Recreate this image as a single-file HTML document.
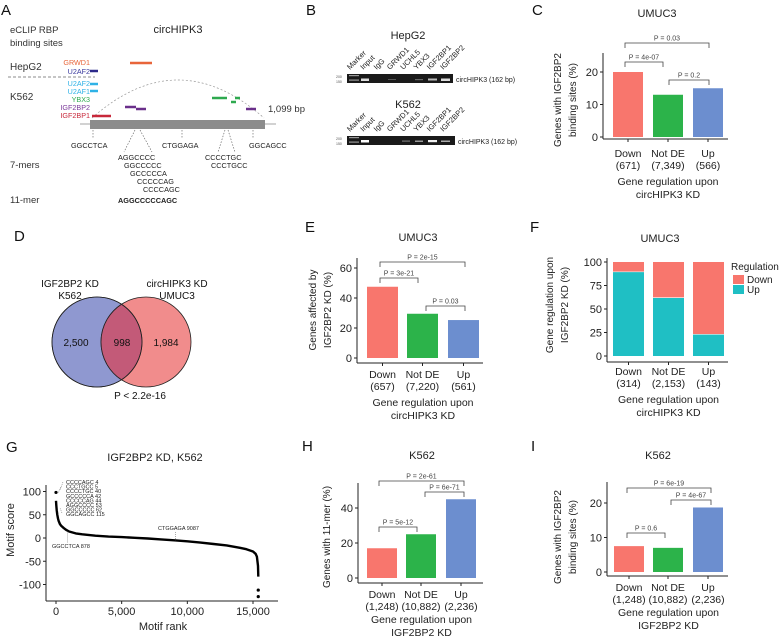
<!DOCTYPE html>
<html><head><meta charset="utf-8"><style>
html,body{margin:0;padding:0;background:#fff}
svg{display:block;font-family:"Liberation Sans",Arial,sans-serif}
</style></head><body>
<svg id="fig" width="784" height="638" viewBox="0 0 784 638" xmlns="http://www.w3.org/2000/svg">
<g font-size="15" fill="#111">
<text x="1" y="15">A</text><text x="306" y="15">B</text><text x="532" y="15">C</text>
<text x="14" y="241">D</text><text x="305" y="232">E</text><text x="530" y="232">F</text>
<text x="6" y="452">G</text><text x="302" y="451">H</text><text x="531" y="451">I</text>
</g>

<g id="panelA">
<text x="10" y="33" font-size="9.5" fill="#333">eCLIP RBP</text>
<text x="10" y="46" font-size="9.5" fill="#333">binding sites</text>
<text x="178" y="33" font-size="11" text-anchor="middle" fill="#222">circHIPK3</text>
<text x="10" y="70" font-size="10" fill="#333">HepG2</text>
<text x="10" y="100" font-size="10" fill="#333">K562</text>
<g font-size="7.2" text-anchor="end">
<text x="90" y="65" fill="#e8653a">GRWD1</text>
<text x="90" y="74" fill="#3b3b9e">U2AF2</text>
<text x="90" y="86" fill="#2fb2e6">U2AF2</text>
<text x="90" y="94" fill="#2fb2e6">U2AF1</text>
<text x="90" y="102" fill="#2ea94f">YBX3</text>
<text x="90" y="110" fill="#7b3a9a">IGF2BP2</text>
<text x="90" y="118" fill="#c8283a">IGF2BP1</text>
</g>
<line x1="8" y1="77" x2="95" y2="77" stroke="#666" stroke-dasharray="3,2" stroke-width="0.7"/>
<path d="M92 118 Q178 42 264 118" fill="none" stroke="#999" stroke-dasharray="2,2" stroke-width="0.7"/>
<g stroke-width="2.5">
<line x1="130" y1="63" x2="152" y2="63" stroke="#e8653a"/>
<line x1="90" y1="71" x2="98" y2="71" stroke="#2d2a8a"/>
<line x1="90" y1="84" x2="98" y2="84" stroke="#2fb2e6"/>
<line x1="90" y1="91" x2="98" y2="91" stroke="#2fb2e6"/>
<line x1="92" y1="116" x2="111" y2="116" stroke="#c8283a"/>
<line x1="125" y1="107" x2="136" y2="107" stroke="#6a2f8a"/>
<line x1="136" y1="109" x2="146" y2="109" stroke="#6a2f8a"/>
<line x1="212" y1="98" x2="227" y2="98" stroke="#2ea94f"/>
<line x1="235" y1="98" x2="240" y2="98" stroke="#2ea94f"/>
<line x1="231" y1="102" x2="236" y2="102" stroke="#2ea94f"/>
<line x1="246" y1="109" x2="256" y2="109" stroke="#6a2f8a"/>
</g>
<line x1="80" y1="124" x2="276" y2="124" stroke="#888" stroke-width="0.8"/>
<rect x="90" y="120" width="175" height="9" fill="#8c8c8c"/>
<text x="268" y="112" font-size="9.5" fill="#333">1,099 bp</text>
<g stroke="#555" stroke-dasharray="1.5,1.5" stroke-width="0.6" fill="none">
<line x1="93" y1="130" x2="93" y2="139"/>
<line x1="135" y1="130" x2="124" y2="152"/><line x1="140" y1="130" x2="152" y2="152"/>
<line x1="182" y1="130" x2="182" y2="139"/>
<line x1="225" y1="130" x2="218" y2="152"/><line x1="228" y1="130" x2="235" y2="152"/>
<line x1="253" y1="130" x2="253" y2="139"/>
</g>
<g font-size="7.3" fill="#222">
<text x="71" y="148">GGCCTCA</text><text x="162" y="148">CTGGAGA</text><text x="249" y="148">GGCAGCC</text>
<text x="118" y="160">AGGCCCC</text><text x="124" y="168">GGCCCCC</text><text x="130" y="176">GCCCCCA</text>
<text x="137" y="184">CCCCCAG</text><text x="143" y="192">CCCCAGC</text>
<text x="205" y="160">CCCCTGC</text><text x="211" y="168">CCCTGCC</text>
<text x="118" y="203" font-weight="bold">AGGCCCCCAGC</text>
</g>
<text x="10" y="168" font-size="9.5" fill="#333">7-mers</text>
<text x="10" y="203" font-size="9.5" fill="#333">11-mer</text>
</g>

<g id="panelB">
<text x="408" y="39" font-size="11" text-anchor="middle" fill="#222">HepG2</text>
<text x="408" y="108" font-size="11" text-anchor="middle" fill="#222">K562</text>
<g id="lanesTop"></g><g id="lanesBot"></g>
<rect x="347" y="74" width="106" height="9" fill="#1a1a1a"/>
<rect x="347" y="136" width="108" height="9" fill="#1a1a1a"/>
<g font-size="3.5" fill="#555"><text x="336" y="78">200</text><text x="336" y="83">150</text><text x="336" y="140">200</text><text x="336" y="145">150</text></g>
<g fill="#ddd">
<rect x="349" y="75" width="10" height="1.2" fill="#999"/><rect x="349" y="79.5" width="10" height="1.2" fill="#999"/>
<rect x="361" y="78.5" width="8" height="2.5"/><rect x="388" y="79" width="8" height="1" fill="#555"/>
<rect x="415" y="79" width="8" height="1.2" fill="#666"/><rect x="428" y="78.5" width="9" height="2" fill="#bbb"/><rect x="441" y="78.5" width="9" height="2.5"/>
<rect x="349" y="137" width="10" height="1.2" fill="#999"/><rect x="349" y="141.5" width="10" height="1.2" fill="#999"/>
<rect x="361" y="140" width="8" height="2.5" fill="#fff"/><rect x="402" y="140.5" width="8" height="1.2" fill="#777"/>
<rect x="415" y="140.5" width="8" height="1.5" fill="#999"/><rect x="428" y="140" width="9" height="2.2" fill="#eee"/><rect x="441" y="140.5" width="9" height="1.5" fill="#aaa"/>
</g>
<text x="456" y="82" font-size="7" fill="#222">circHIPK3 (162 bp)</text>
<text x="458" y="144" font-size="7" fill="#222">circHIPK3 (162 bp)</text>
</g>

<g id="panelD">
<circle cx="97" cy="342" r="45" fill="#8f98d0" stroke="#222" stroke-width="0.8"/>
<circle cx="146" cy="342" r="45" fill="#f08080" fill-opacity="0.9" stroke="#222" stroke-width="0.8"/>
<path d="M121.5 304.25 A45 45 0 0 1 121.5 379.75 A45 45 0 0 1 121.5 304.25Z" fill="#c35a78" stroke="#222" stroke-width="0.8"/>
<circle cx="97" cy="342" r="45" fill="none" stroke="#222" stroke-width="0.8"/>
<g font-size="10" text-anchor="middle" fill="#111">
<text x="76" y="346">2,500</text><text x="122" y="346">998</text><text x="166" y="346">1,984</text>
<text x="70" y="287">IGF2BP2 KD</text><text x="70" y="299">K562</text>
<text x="177" y="287">circHIPK3 KD</text><text x="177" y="299">UMUC3</text>
<text x="140" y="399">P &lt; 2.2e-16</text>
</g>
</g>

<g id="charts"></g>
</svg>
<script>
var catsC = ["Down","Not DE","Up"];
var nC = ["(671)","(7,349)","(566)"];
var valsC = [20, 13, 15];
var ticksC = [0, 10, 20];
var pC = ["P = 0.03","P = 4e-07","P = 0.2"];

var nE = ["(657)","(7,220)","(561)"];
var valsE = [47.5, 29.5, 25.3];
var ticksE = [0, 20, 40, 60];
var pE = ["P = 2e-15","P = 3e-21","P = 0.03"];

var nF = ["(314)","(2,153)","(143)"];
var upF = [89.5, 62, 23];
var ticksF = [0, 25, 50, 75, 100];

var nH = ["(1,248)","(10,882)","(2,236)"];
var valsH = [17, 25, 45];
var ticksH = [0, 20, 40];
var pH = ["P = 2e-61","P = 6e-71","P = 5e-12"];

var nI = ["(1,248)","(10,882)","(2,236)"];
var valsI = [7.5, 7, 18.7];
var ticksI = [0, 10, 20];
var pI = ["P = 6e-19","P = 4e-67","P = 0.6"];

var lanes = ["Marker","Input","IgG","GRWD1","UCHL5","YBX3","IGF2BP1","IGF2BP2"];

var gRank = [0,20,50,100,150,200,300,400,600,800,1000,1500,2000,3000,4000,5000,6000,7000,8000,9000,10000,11000,12000,13000,14000,14500,15000,15200,15300,15380,15400];
var gScore = [80,70,60,50,42,37,30,26,21,17,14,10,8,5,3,2,0.5,-1,-3,-5,-7,-10,-13,-16,-21,-24,-29,-34,-40,-60,-83];
var gOutRank = [0,15400,15400];
var gOutScore = [98,-112,-126];
var gXTicks = [0,5000,10000,15000];
var gXLabels = ["0","5,000","10,000","15,000"];
var gYTicks = [100,50,0,-50,-100];
var gAnnot = ["CCCCAGC 4","CCCTGCC 5","CCCCTGC 40","GCCCCCA 42","CCCCCAG 44","AGGCCCC 53","GGCCCCC 62","GGCAGCC 115"];

var NS = "http://www.w3.org/2000/svg";
var root = document.getElementById('charts');
function mk(tag, attrs, parent, txt){
  var e = document.createElementNS(NS, tag);
  for (var k in attrs) e.setAttribute(k, attrs[k]);
  if (txt !== undefined) e.textContent = txt;
  (parent || root).appendChild(e);
  return e;
}
var COLS = ["#F8766D","#2CB34A","#6C8ECF"];

function barChart(o){
  var g = mk('g', {});
  
  
  var tOff = o.tOff || 28;
  function y(v){ return o.y0 - v * (o.y0 - o.yTop) / (o.vTop); }
  mk('line', {x1:o.ax, y1:o.axTop, x2:o.ax, y2:o.xAxY, stroke:'#222','stroke-width':1}, g);
  mk('line', {x1:o.ax, y1:o.xAxY, x2:o.axEnd, y2:o.xAxY, stroke:'#222','stroke-width':1}, g);
  o.ticks.forEach(function(t){
    mk('line',{x1:o.ax-3,y1:y(t),x2:o.ax,y2:y(t),stroke:'#222'},g);
    var tl = mk('text',{x:o.ax-5,y:y(t)+4,'font-size':11,'text-anchor':'end',fill:'#222'},g,String(t));
    
    
  });
  for (var i=0;i<3;i++){
    var x0 = o.bx[i], cx = x0 + o.bw/2;
    if (o.stack){
      var ru = mk('rect',{x:x0,y:y(100),width:o.bw,height:y(o.stack[i])-y(100),fill:'#F8766D'},g);
      
      
      var rd = mk('rect',{x:x0,y:y(o.stack[i]),width:o.bw,height:y(0)-y(o.stack[i]),fill:'#1FBFC4'},g);
      
      
      mk('line',{x1:x0,y1:y(o.stack[i]),x2:x0+o.bw,y2:y(o.stack[i]),stroke:'#fff','stroke-width':0.6},g);
    } else {
      var r = mk('rect',{x:x0,y:y(o.vals[i]),width:o.bw,height:y(0)-y(o.vals[i]),fill:COLS[i]},g);
      
      
    }
    mk('line',{x1:cx,y1:o.xAxY,x2:cx,y2:o.xAxY+3,stroke:'#222'},g);
    mk('text',{x:cx,y:o.cy,'font-size':10.5,'text-anchor':'middle',fill:'#222'},g,catsC[i]);
    mk('text',{x:cx,y:o.cy+12,'font-size':10.5,'text-anchor':'middle',fill:'#222'},g,o.ns[i]);
  }
  var xm = (o.bx[0] + o.bx[2] + o.bw)/2;
  var t1 = mk('text',{x:xm,y:o.cy+tOff,'font-size':10.5,'text-anchor':'middle',fill:'#222'},g,o.xt[0]);
  
  
  mk('text',{x:xm,y:o.cy+tOff+13,'font-size':10.5,'text-anchor':'middle',fill:'#222'},g,o.xt[1]);
  var tt = mk('text',{x:o.tx,y:o.ty,'font-size':11,'text-anchor':'middle',fill:'#222'},g,o.title);
  
  
  o.yt.forEach(function(s,k){
    var yx = o.ytx + k*15;
    var ye = mk('text',{x:yx,y:o.tyc,'font-size':10,'text-anchor':'middle',fill:'#222',transform:'rotate(-90 '+yx+' '+o.tyc+')'},g,s);
    
    
  });
  if (o.br){
    o.br.forEach(function(b,k){
      var path = 'M'+b[0]+' '+(b[2]+5)+' V'+b[2]+' H'+b[1]+' V'+(b[2]+5);
      mk('path',{d:path,fill:'none',stroke:'#444','stroke-width':0.8},g);
      mk('text',{x:(b[0]+b[1])/2,y:b[2]-2.5,'font-size':7,'text-anchor':'middle',fill:'#444'},g,o.p[k]);
    });
  }
}

barChart({name:'panel-c-chart',ax:603,axTop:53,axEnd:728,xAxY:139,y0:137,yTop:72,vTop:20,ticks:ticksC,vals:valsC,
  bx:[613,653,693],bw:30,ns:nC,cy:157,xt:["Gene regulation upon","circHIPK3 KD"],title:"UMUC3",tx:657,ty:17,
  yt:["Genes with IGF2BP2","binding sites (%)"],ytx:561,tyc:100,p:pC,br:[[625,709,43],[625,663,62],[669,709,80]]});
barChart({name:'panel-e-chart',ax:357,axTop:258,axEnd:483,xAxY:363,y0:358,yTop:268,vTop:60,ticks:ticksE,vals:valsE,
  bx:[367,407,448],bw:31,ns:nE,cy:378,xt:["Gene regulation upon","circHIPK3 KD"],title:"UMUC3",tx:418,ty:241,
  yt:["Genes affected by","IGF2BP2 KD (%)"],ytx:316,tyc:310,p:pE,br:[[380,465,262],[380,418,278],[426,465,306]]});
barChart({name:'panel-f-chart',ax:607,axTop:258,axEnd:728,xAxY:362,y0:356,yTop:262,vTop:100,ticks:ticksF,stack:upF,
  bx:[613,653,693],bw:31,ns:nF,cy:375,xt:["Gene regulation upon","circHIPK3 KD"],title:"UMUC3",tx:660,ty:242,
  yt:["Gene regulation upon","IGF2BP2 KD (%)"],ytx:553,tyc:305});
barChart({name:'panel-h-chart',ax:358,axTop:483,axEnd:483,xAxY:583,y0:578,yTop:508,vTop:40,ticks:ticksH,vals:valsH,
  bx:[367,406,446],bw:30,ns:nH,cy:598,tOff:25,xt:["Gene regulation upon","IGF2BP2 KD"],title:"K562",tx:422,ty:459,
  yt:["Genes with 11-mer (%)"],ytx:330,tyc:537,p:pH,br:[[379,464,481],[425,464,492],[379,417,527]]});
barChart({name:'panel-i-chart',ax:607,axTop:482,axEnd:728,xAxY:576,y0:572,yTop:503,vTop:20,ticks:ticksI,vals:valsI,
  bx:[614,653,693],bw:30,ns:nI,cy:591,tOff:25,xt:["Gene regulation upon","IGF2BP2 KD"],title:"K562",tx:658,ty:459,
  yt:["Genes with IGF2BP2","binding sites (%)"],ytx:561,tyc:537,p:pI,br:[[627,711,488],[671,711,500],[627,665,533]]});

(function(){
  var g = mk('g',{});
  
  
  mk('text',{x:731,y:270,'font-size':10,fill:'#222'},g,'Regulation');
  mk('rect',{x:733,y:275,width:11,height:9,fill:'#F8766D'},g);
  mk('text',{x:747,y:283,'font-size':10,fill:'#222'},g,'Down');
  mk('rect',{x:733,y:285,width:11,height:9,fill:'#1FBFC4'},g);
  mk('text',{x:747,y:293,'font-size':10,fill:'#222'},g,'Up');
})();

[['lanesTop',70],['lanesBot',132]].forEach(function(p){
  var g = document.getElementById(p[0]);
  lanes.forEach(function(l,i){
    var x = 350 + i*13.3, y = p[1];
    var t = mk('text',{x:x,y:y,'font-size':7.5,fill:'#222',transform:'rotate(-45 '+x+' '+y+')'},g,l);
    
    
  });
});

(function(){
  var g = mk('g',{});
  
  
  function X(r){ return 56 + r*(253-56)/15000; }
  function Y(s){ return 538 - s*0.465; }
  mk('line',{x1:46,y1:485,x2:46,y2:601,stroke:'#222'},g);
  mk('line',{x1:46,y1:601,x2:278,y2:601,stroke:'#222'},g);
  gYTicks.forEach(function(t){
    mk('line',{x1:43,y1:Y(t),x2:46,y2:Y(t),stroke:'#222'},g);
    mk('text',{x:41,y:Y(t)+4,'font-size':11,'text-anchor':'end',fill:'#222'},g,String(t));
  });
  gXTicks.forEach(function(t,i){
    mk('line',{x1:X(t),y1:601,x2:X(t),y2:604,stroke:'#222'},g);
    mk('text',{x:X(t),y:615,'font-size':11,'text-anchor':'middle',fill:'#222'},g,gXLabels[i]);
  });
  var d = gRank.map(function(r,i){ return (i?'L':'M')+X(r).toFixed(1)+' '+Y(gScore[i]).toFixed(1); }).join(' ');
  var line = mk('path',{d:d,fill:'none',stroke:'#000','stroke-width':2.4,'stroke-linejoin':'round'},g);
  
  
  gOutRank.forEach(function(r,i){
    var c = mk('circle',{cx:X(r),cy:Y(gOutScore[i]),r:1.6,fill:'#000'},g);
    
    
  });
  gAnnot.forEach(function(s,i){
    mk('text',{x:66,y:484+i*4.6,'font-size':5.5,fill:'#222'},g,s);
  });
  mk('path',{d:'M63 482 L60 490 M61 487 L58 493 M62 513 L60 508',fill:'none',stroke:'#555','stroke-width':0.5,'stroke-dasharray':'1,1'},g);
  mk('text',{x:158,y:530,'font-size':5.5,fill:'#222'},g,'CTGGAGA 9087');
  mk('line',{x1:X(9087),y1:532,x2:X(9087),y2:Y(-5),stroke:'#555','stroke-width':0.5,'stroke-dasharray':'1,1'},g);
  mk('text',{x:52,y:548,'font-size':5.5,fill:'#222'},g,'GGCCTCA 878');
  mk('line',{x1:X(878),y1:Y(14),x2:X(878),y2:543,stroke:'#555','stroke-width':0.5,'stroke-dasharray':'1,1'},g);
  mk('text',{x:155,y:461,'font-size':11,'text-anchor':'middle',fill:'#222'},g,'IGF2BP2 KD, K562');
  mk('text',{x:163,y:630,'font-size':11,'text-anchor':'middle',fill:'#222'},g,'Motif rank');
  mk('text',{x:14,y:530,'font-size':11,'text-anchor':'middle',fill:'#222',transform:'rotate(-90 14 530)'},g,'Motif score');
})();
</script>
</body></html>
